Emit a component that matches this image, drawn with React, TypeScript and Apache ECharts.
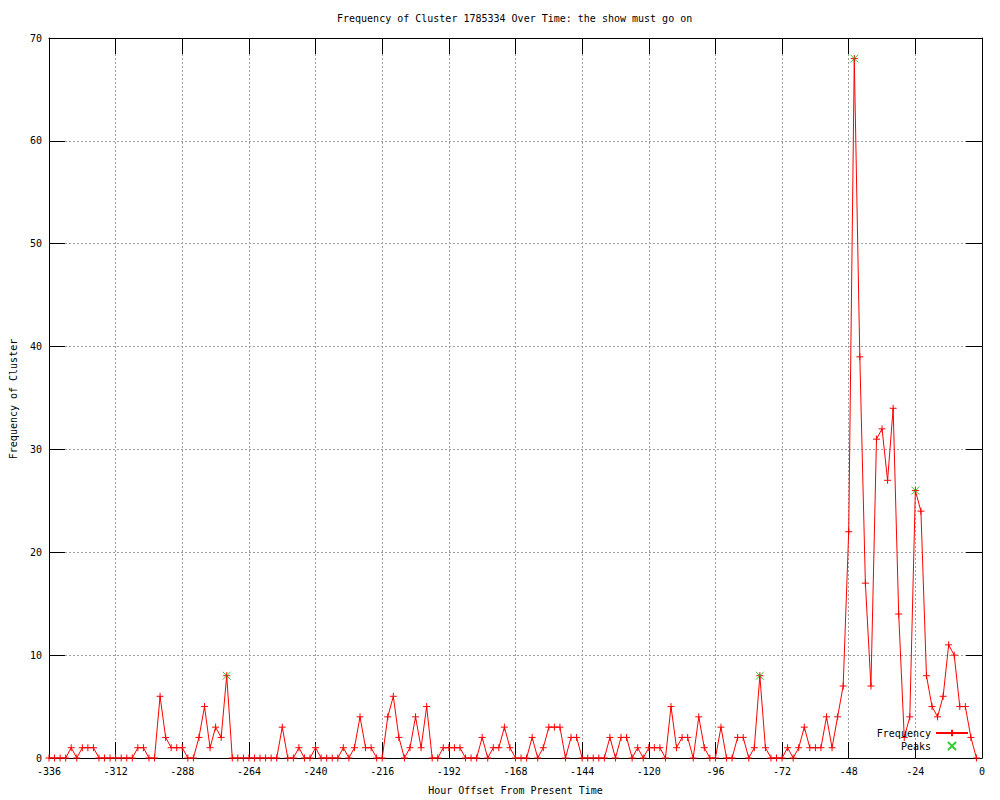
import React, { useEffect, useRef } from "react";
import * as echarts from "echarts";

const FONT = '"DejaVu Sans Mono", "Liberation Mono", monospace';

const hours: number[] = [
  -336, -334, -332, -330, -328, -326, -324, -322, -320, -318, -316, -314,
  -312, -310, -308, -306, -304, -302, -300, -298, -296, -294, -292, -290,
  -288, -286, -284, -282, -280, -278, -276, -274, -272, -270, -268, -266,
  -264, -262, -260, -258, -256, -254, -252, -250, -248, -246, -244, -242,
  -240, -238, -236, -234, -232, -230, -228, -226, -224, -222, -220, -218,
  -216, -214, -212, -210, -208, -206, -204, -202, -200, -198, -196, -194,
  -192, -190, -188, -186, -184, -182, -180, -178, -176, -174, -172, -170,
  -168, -166, -164, -162, -160, -158, -156, -154, -152, -150, -148, -146,
  -144, -142, -140, -138, -136, -134, -132, -130, -128, -126, -124, -122,
  -120, -118, -116, -114, -112, -110, -108, -106, -104, -102, -100, -98,
  -96, -94, -92, -90, -88, -86, -84, -82, -80, -78, -76, -74,
  -72, -70, -68, -66, -64, -62, -60, -58, -56, -54, -52, -50,
  -48, -46, -44, -42, -40, -38, -36, -34, -32, -30, -28, -26,
  -24, -22, -20, -18, -16, -14, -12, -10, -8, -6, -4, -2,
];

const frequency: number[] = [
  0, 0, 0, 0, 1, 0, 1, 1, 1, 0, 0, 0,
  0, 0, 0, 0, 1, 1, 0, 0, 6, 2, 1, 1,
  1, 0, 0, 2, 5, 1, 3, 2, 8, 0, 0, 0,
  0, 0, 0, 0, 0, 0, 3, 0, 0, 1, 0, 0,
  1, 0, 0, 0, 0, 1, 0, 1, 4, 1, 1, 0,
  0, 4, 6, 2, 0, 1, 4, 1, 5, 0, 0, 1,
  1, 1, 1, 0, 0, 0, 2, 0, 1, 1, 3, 1,
  0, 0, 0, 2, 0, 1, 3, 3, 3, 0, 2, 2,
  0, 0, 0, 0, 0, 2, 0, 2, 2, 0, 1, 0,
  1, 1, 1, 0, 5, 1, 2, 2, 0, 4, 1, 0,
  0, 3, 0, 0, 2, 2, 0, 1, 8, 1, 0, 0,
  0, 1, 0, 1, 3, 1, 1, 1, 4, 1, 4, 7,
  22, 68, 39, 17, 7, 31, 32, 27, 34, 14, 2, 4,
  26, 24, 8, 5, 4, 6, 11, 10, 5, 5, 2, 0,
];

const peakHours: number[] = [-272, -80, -46, -24];
const peakValues: number[] = [8, 8, 68, 26];

const PLUS = "path://M0,5L10,5M5,0L5,10";
const CROSS = "path://M0,0L10,10M0,10L10,0";

export default function App() {
  const ref = useRef<HTMLDivElement>(null);
  useEffect(() => {
    if (!ref.current) return;
    const chart = echarts.init(ref.current, undefined, { renderer: "svg" });
    const axisLine = { show: true, onZero: false, lineStyle: { color: "#000", width: 1 } };
    const axisTick = { show: true, inside: true, length: 16, lineStyle: { color: "#000", width: 1 } };
    const labelStyle = { color: "#000", fontSize: 10, fontFamily: FONT };
    const split = { show: true, lineStyle: { color: "#a0a0a0", type: [2, 2], width: 1 } };
    chart.setOption({
      animation: false,
      backgroundColor: "#fff",
      textStyle: { fontFamily: FONT },
      title: {
        text: "Frequency of Cluster 1785334 Over Time: the show must go on",
        left: 337,
        top: 13,
        padding: 0,
        textStyle: { fontSize: 10, fontWeight: "normal", color: "#000", fontFamily: FONT },
      },
      grid: { left: 49, right: 18, top: 38, bottom: 40 },
      legend: {
        orient: "vertical",
        right: 31,
        top: 728,
        padding: 0,
        align: "right",
        itemWidth: 32,
        itemHeight: 8,
        itemGap: 3,
        selectedMode: false,
        textStyle: { color: "#000", fontSize: 10, fontFamily: FONT, lineHeight: 10 },
        data: ["Frequency", "Peaks"],
      },
      xAxis: [
        {
          type: "value",
          min: -336,
          max: 0,
          interval: 24,
          position: "bottom",
          axisLine,
          axisTick,
          axisLabel: { ...labelStyle, margin: 8 },
          splitLine: split,
          name: "Hour Offset From Present Time",
          nameLocation: "middle",
          nameGap: 27,
          nameTextStyle: labelStyle,
        },
        {
          type: "value",
          min: -336,
          max: 0,
          interval: 24,
          position: "top",
          axisLine,
          axisTick,
          axisLabel: { show: false },
          splitLine: { show: false },
        },
      ],
      yAxis: [
        {
          type: "value",
          min: 0,
          max: 70,
          interval: 10,
          position: "left",
          axisLine,
          axisTick,
          axisLabel: { ...labelStyle, margin: 7 },
          splitLine: split,
        },
        {
          type: "value",
          min: 0,
          max: 70,
          interval: 10,
          position: "right",
          axisLine,
          axisTick,
          axisLabel: { show: false },
          splitLine: { show: false },
        },
      ],
      graphic: [
        {
          type: "text",
          x: 13,
          y: 399,
          rotation: Math.PI / 2,
          style: {
            text: "Frequency of Cluster",
            fontSize: 10,
            fontFamily: FONT,
            fill: "#000",
            align: "center",
            verticalAlign: "middle",
          },
        },
      ],
      series: [
        {
          name: "Frequency",
          type: "line",
          xAxisIndex: 0,
          yAxisIndex: 0,
          z: 2,
          data: hours.map((h, i) => [h, frequency[i]]),
          symbol: PLUS,
          symbolSize: 7,
          symbolKeepAspect: true,
          showAllSymbol: true,
          lineStyle: { color: "#ff0000", width: 1 },
          itemStyle: { color: "#ff0000", borderColor: "#ff0000", borderWidth: 1 },
          emphasis: { disabled: true },
        },
        {
          name: "Peaks",
          type: "scatter",
          xAxisIndex: 0,
          yAxisIndex: 0,
          z: 3,
          data: peakHours.map((h, i) => [h, peakValues[i]]),
          symbol: CROSS,
          symbolSize: 8,
          symbolKeepAspect: true,
          itemStyle: { color: "#00c000", borderColor: "#00c000", borderWidth: 1 },
          emphasis: { disabled: true },
        },
      ],
    });
    return () => chart.dispose();
  }, []);
  return (
    <div
      ref={ref}
      style={{ position: "absolute", left: 0, top: 0, width: 1000, height: 800 }}
    />
  );
}
